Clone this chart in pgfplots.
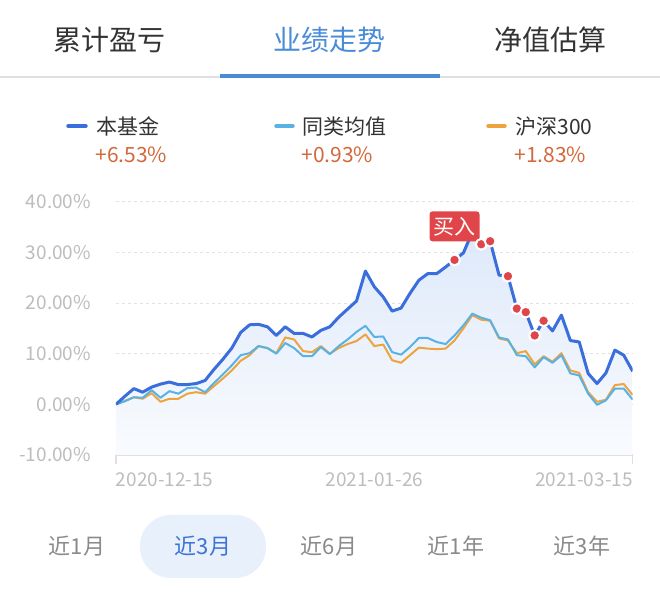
\documentclass[border=0pt]{standalone}
\usepackage{fontspec}
\setmainfont{Noto Sans CJK SC}
\usepackage{pgfplots}
\usepackage{pgfplotstable}
\pgfplotsset{compat=1.18}
\definecolor{fundblue}{HTML}{3A6EDC}
\definecolor{avgblue}{HTML}{5AB2E4}
\definecolor{hsorange}{HTML}{EEA43E}
\definecolor{pctorange}{HTML}{D2693C}
\definecolor{tabblue}{HTML}{4A8CD8}
\definecolor{darktext}{HTML}{333333}
\definecolor{lightgray}{HTML}{BDBDBD}
\definecolor{gridgray}{HTML}{E2E2E2}
\definecolor{axisgray}{HTML}{E0E0E0}
\definecolor{dotred}{HTML}{E0454A}
\definecolor{pillbg}{HTML}{E8F0FC}
\definecolor{btngray}{HTML}{8A8A8A}
\definecolor{btnblue}{HTML}{3D73D6}

\pgfplotstableread{
x y
0 0
1 1.6
2 3.1
3 2.4
4 3.4
5 4.0
6 4.4
7 3.9
8 3.9
9 4.1
10 4.7
11 6.9
12 8.9
13 11.1
14 14.2
15 15.7
16 15.8
17 15.3
18 13.6
19 15.3
20 14.0
21 14.0
22 13.3
23 14.6
24 15.3
25 17.2
26 18.8
27 20.4
28 26.3
29 23.2
30 21.2
31 18.4
32 19.0
33 21.9
34 24.5
35 25.8
36 25.8
37 27.1
38 28.5
39 29.9
40 34.0
41 31.6
42 32.2
43 25.5
44 25.3
45 18.9
46 18.2
47 13.6
48 16.5
49 14.5
50 17.6
51 12.6
52 12.3
53 6.1
54 4.1
55 6.2
56 10.7
57 9.7
58 6.53
}\fund

\pgfplotstableread{
x y
0 0
1 0.6
2 1.4
3 1.3
4 2.8
5 1.3
6 2.6
7 2.1
8 3.2
9 3.3
10 2.4
11 4.2
12 5.9
13 7.7
14 9.7
15 10.1
16 11.5
17 11.1
18 10.0
19 12.1
20 11.1
21 9.5
22 9.5
23 11.3
24 9.9
25 11.5
26 12.8
27 14.3
28 15.5
29 13.3
30 13.4
31 10.3
32 9.8
33 11.3
34 13.1
35 13.1
36 12.3
37 11.9
38 13.6
39 15.6
40 17.9
41 17.1
42 16.6
43 13.2
44 12.8
45 9.7
46 9.5
47 7.3
48 9.3
49 8.2
50 9.7
51 6.1
52 5.7
53 2.1
54 -0.1
55 0.8
56 3.1
57 3.1
58 0.93
}\avg

\pgfplotstableread{
x y
0 0
1 0.7
2 1.4
3 1.1
4 2.2
5 0.5
6 1.1
7 1.1
8 2.1
9 2.4
10 2.1
11 3.6
12 5.1
13 6.7
14 8.6
15 9.7
16 11.5
17 11.1
18 10.1
19 13.2
20 12.8
21 10.5
22 10.3
23 11.5
24 10.0
25 11.1
26 11.9
27 12.5
28 13.8
29 11.5
30 11.8
31 8.7
32 8.2
33 9.7
34 11.2
35 11.0
36 10.9
37 11.0
38 12.6
39 15.0
40 17.6
41 16.7
42 16.5
43 13.0
44 12.6
45 10.1
46 10.5
47 7.9
48 9.5
49 8.4
50 10.1
51 6.7
52 6.2
53 2.4
54 0.5
55 0.9
56 3.8
57 4.0
58 1.83
}\hs

\pgfplotstableread{
x y
38 28.5
41 31.6
42 32.2
44 25.3
45 18.9
46 18.2
47 13.6
48 16.5
}\buys

\begin{document}
\begin{tikzpicture}
\useasboundingbox (0,0) rectangle (330pt,-296pt);
\fill[white] (0,0) rectangle (330pt,-296pt);

% tabs
\node[text=darktext, font=\fontsize{14}{16}\selectfont] at (55pt,-20pt) {累计盈亏};
\node[text=tabblue, font=\fontsize{14}{16}\selectfont] at (164.5pt,-20pt) {业绩走势};
\node[text=darktext, font=\fontsize{14}{16}\selectfont] at (275pt,-20pt) {净值估算};
\draw[axisgray, line width=0.75pt] (0,-38.5pt) -- (330pt,-38.5pt);
\draw[tabblue, line width=2pt] (110pt,-38pt) -- (220pt,-38pt);

% legend
\draw[fundblue, line width=1.7pt, line cap=round] (34pt,-63pt) -- (43pt,-63pt);
\node[anchor=west, inner sep=0pt, text=darktext, font=\fontsize{10.5}{12}\selectfont] at (48pt,-63.3pt) {本基金};
\node[anchor=west, inner sep=0pt, text=pctorange, font=\fontsize{10.5}{12}\selectfont] at (47.5pt,-77.5pt) {+6.53\%};
\draw[avgblue, line width=1.7pt, line cap=round] (138pt,-63pt) -- (146.5pt,-63pt);
\node[anchor=west, inner sep=0pt, text=darktext, font=\fontsize{10.5}{12}\selectfont] at (151pt,-63.3pt) {同类均值};
\node[anchor=west, inner sep=0pt, text=pctorange, font=\fontsize{10.5}{12}\selectfont] at (150.5pt,-77.5pt) {+0.93\%};
\draw[hsorange, line width=1.7pt, line cap=round] (244pt,-63pt) -- (252.5pt,-63pt);
\node[anchor=west, inner sep=0pt, text=darktext, font=\fontsize{10.5}{12}\selectfont] at (257.5pt,-63.3pt) {沪深300};
\node[anchor=west, inner sep=0pt, text=pctorange, font=\fontsize{10.5}{12}\selectfont] at (257pt,-77.5pt) {+1.83\%};

\begin{axis}[
  at={(58pt,-227.5pt)}, anchor=south west,
  scale only axis, width=258.35pt, height=126.65pt,
  xmin=0, xmax=58, ymin=-10, ymax=40,
  axis lines=left,
  axis line style={-},
  x axis line style={draw=axisgray, line width=0.6pt},
  y axis line style={draw=none},
  ytick={-10,0,10,20,30,40},
  yticklabels={-10.00\%,0.00\%,10.00\%,20.00\%,30.00\%,40.00\%},
  ytick style={draw=none},
  yticklabel style={text=lightgray, font=\fontsize{9.5}{11}\selectfont, anchor=east, xshift=-4.5pt},
  ymajorgrids,
  major grid style={draw=gridgray, line width=0.5pt, dash pattern=on 1.5pt off 1.5pt},
  xtick={0,58},
  xticklabels={\rlap{2020-12-15},\llap{2021-03-15}},
  extra x ticks={29},
  extra x tick labels={2021-01-26},
  extra x tick style={major tick length=0pt, xmajorgrids=false, xticklabel style={yshift=-4.5pt}},
  tick align=outside,
  major tick length=4.5pt,
  xtick style={draw=axisgray, line width=0.6pt},
  xticklabel style={text=lightgray, font=\fontsize{9.5}{11}\selectfont, anchor=north, yshift=-1pt},
]
\addplot[draw=none, top color={rgb,255:red,222;green,233;blue,250}, bottom color={rgb,255:red,249;green,251;blue,254}] table[x=x,y=y] {\fund} |- (axis cs:0,-10) -- cycle;
\addplot[hsorange, line width=1pt, line join=round] table[x=x,y=y] {\hs};
\addplot[avgblue, line width=1pt, line join=round] table[x=x,y=y] {\avg};
\addplot[fundblue, line width=1.5pt, line join=round] table[x=x,y=y] {\fund};
\addplot[only marks, mark=*, mark size=2.7pt, mark options={fill=dotred, draw=white, line width=1pt}] table[x=x,y=y] {\buys};
\node[anchor=south, fill=dotred, text=white, rounded corners=1.5pt, inner sep=2pt, minimum height=15pt, minimum width=24pt, font=\fontsize{10.5}{12}\selectfont] at (axis cs:38,32.1) {买入};
\end{axis}

% bottom buttons
\fill[pillbg, rounded corners=15.5pt] (70pt,-257.5pt) rectangle (133pt,-289pt);
\node[text=btngray, font=\fontsize{11}{13}\selectfont] at (38.5pt,-273pt) {近1月};
\node[text=btnblue, font=\fontsize{11}{13}\selectfont] at (101.5pt,-273pt) {近3月};
\node[text=btngray, font=\fontsize{11}{13}\selectfont] at (164.5pt,-273pt) {近6月};
\node[text=btngray, font=\fontsize{11}{13}\selectfont] at (228pt,-273pt) {近1年};
\node[text=btngray, font=\fontsize{11}{13}\selectfont] at (291pt,-273pt) {近3年};
\end{tikzpicture}
\end{document}
